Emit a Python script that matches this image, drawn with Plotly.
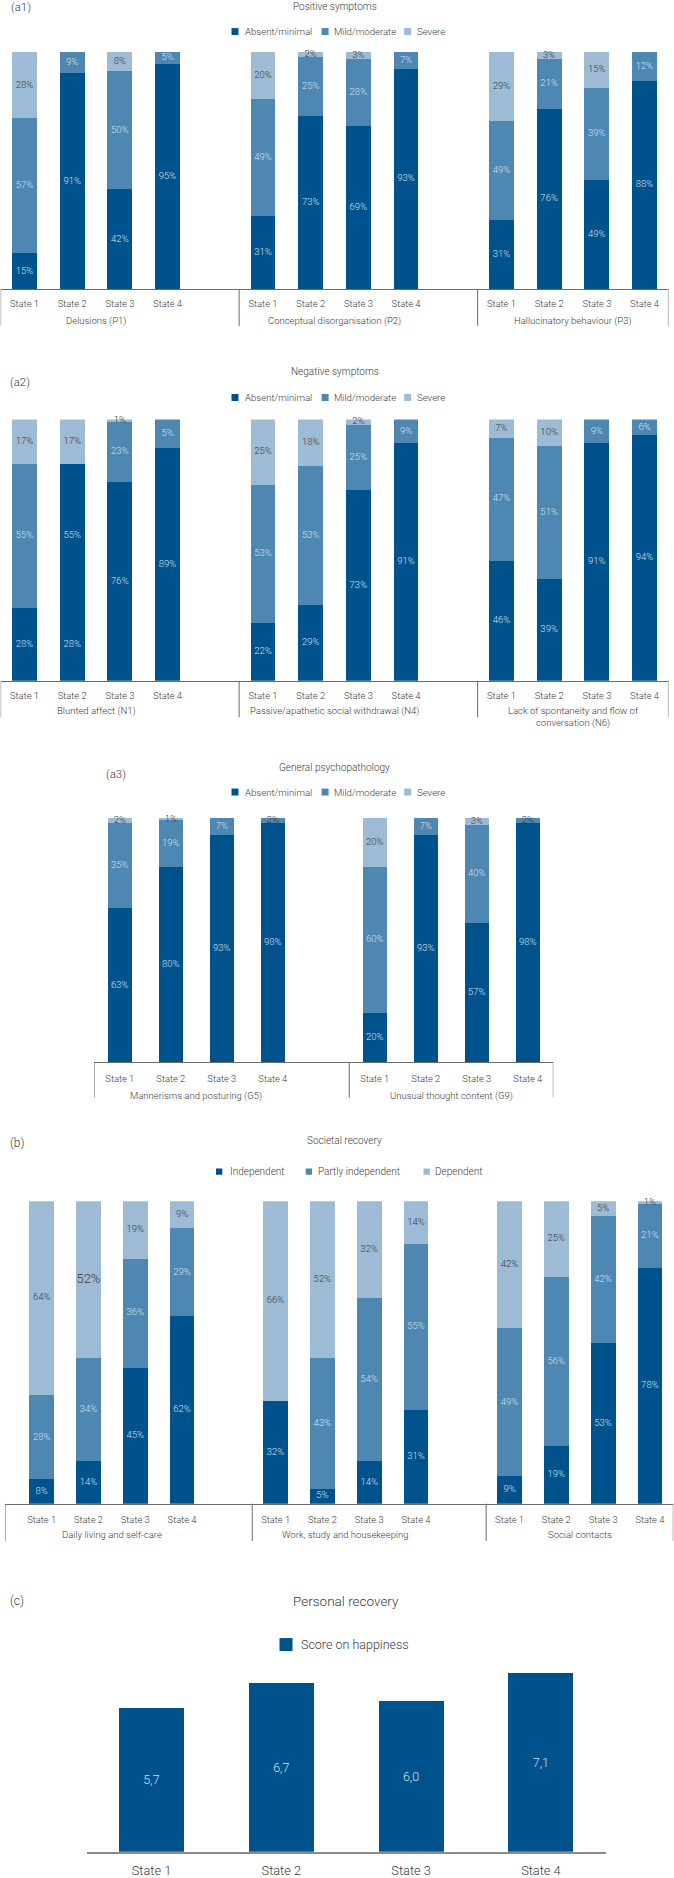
import plotly.graph_objects as go

W, H = 674, 1878

states = ["State 1", "State 2", "State 3", "State 4"]

# (a1) Positive symptoms, % of patients per state (bar heights as drawn)
pos_items = ["Delusions (P1)", "Conceptual disorganisation (P2)", "Hallucinatory behaviour (P3)"]
pos_absent = [15, 91, 42, 95, 31, 73, 69, 93, 29, 76, 46, 88]
pos_mild = [57, 9, 50, 5, 49, 25, 28, 7, 42, 21, 39, 12]
pos_severe = [28, 0, 8, 0, 20, 2, 3, 0, 29, 3, 15, 0]
# labels printed in the figure where they differ from the drawn bar
pos_printed = {("absent", 8): "31%", ("mild", 8): "49%", ("absent", 10): "49%"}

# (a2) Negative symptoms
neg_items = ["Blunted affect (N1)", "Passive/apathetic social withdrawal (N4)",
             "Lack of spontaneity and flow of<br>conversation (N6)"]
neg_absent = [28, 28, 76, 89, 22, 29, 73, 91, 46, 39, 91, 94]
neg_mild = [55, 55, 23, 11, 53, 53, 25, 9, 47, 51, 9, 6]
neg_severe = [17, 17, 1, 0, 25, 18, 2, 0, 7, 10, 0, 0]
neg_printed = {("mild", 3): "5%"}

# (a3) General psychopathology
gen_items = ["Mannerisms and posturing (G5)", "Unusual thought content (G9)"]
gen_absent = [63, 80, 93, 98, 20, 93, 57, 98]
gen_mild = [35, 19, 7, 2, 60, 7, 40, 2]
gen_severe = [2, 1, 0, 0, 20, 0, 3, 0]

# (b) Societal recovery
soc_items = ["Daily living and self-care", "Work, study and housekeeping", "Social contacts"]
soc_indep = [8, 14, 45, 62, 34, 5, 14, 31, 9, 19, 53, 78]
soc_partly = [28, 34, 36, 29, 0, 43, 54, 55, 49, 56, 42, 21]
soc_dep = [64, 52, 19, 9, 66, 52, 32, 14, 42, 25, 5, 1]
soc_printed = {("indep", 4): "32%"}

# (c) Personal recovery
happiness = [5.7, 6.7, 6.0, 7.1]

DARK = "#00528c"
MID = "#4e87b2"
LIGHT = "#9dbbd5"
TXT = "#3a3a3a"
TXT_IN = "#d4e0ec"
LINE = "#6b6b6b"
FONT = "Roboto"


def px(x):
    return x / W


def py(y):
    return 1 - y / H


fig = go.Figure()
shapes = []
annotations = []


def stacked_panel(n, items, series, printed, xdom, ydom, left, bar_w, ticklen,
                  group_y, div_bottom, recolour=None, emphasis=None):
    sfx = "" if n == 1 else str(n)
    xa, ya = "x" + sfx, "y" + sfx
    pos = [g * 5 + s for g in range(len(items)) for s in range(4)]
    right = pos[-1] + 0.5
    base = [0] * len(pos)
    recolour = recolour or {}
    emphasis = emphasis or set()
    lx, ly, lt, lc, ls = [], [], [], [], []
    for key, vals, color, txt in series:
        cols = [recolour.get((key, i), color) for i in range(len(vals))]
        fig.add_trace(go.Bar(
            x=pos, y=[v if v else None for v in vals], width=bar_w,
            marker=dict(color=cols, line=dict(width=0)),
            xaxis=xa, yaxis=ya, showlegend=False, hoverinfo="skip",
        ))
        for i, v in enumerate(vals):
            if not v:
                continue
            big = (key, i) in emphasis
            lx.append(pos[i])
            ly.append(base[i] + v / 2)
            lt.append(printed.get((key, i), f"{v}%"))
            lc.append(TXT if (txt == TXT or v <= 3 or big) else TXT_IN)
            ls.append(13 if big else 9.5)
            base[i] += v
    # percentage labels centred on each segment
    fig.add_trace(go.Scatter(
        x=lx, y=ly, mode="text", text=lt, textposition="middle center",
        textfont=dict(size=ls, color=lc, family=FONT),
        xaxis=xa, yaxis=ya, showlegend=False, hoverinfo="skip", cliponaxis=False,
    ))
    fig.update_layout({
        "xaxis" + sfx: dict(
            domain=[px(xdom[0]), px(xdom[1])], range=[left, right], anchor=ya,
            tickmode="array", tickvals=pos, ticktext=states * len(items),
            ticks="outside", ticklen=ticklen, tickcolor="rgba(0,0,0,0)",
            tickfont=dict(size=9.4, color=TXT),
            showline=True, linecolor=LINE, linewidth=1,
            showgrid=False, zeroline=False, fixedrange=True,
        ),
        "yaxis" + sfx: dict(
            domain=[py(ydom[1]), py(ydom[0])], range=[0, 100],
            anchor=xa, visible=False, fixedrange=True,
        ),
    })
    # group dividers below the axis, Excel style
    for xb in [left] + [g * 5 - 0.5 for g in range(1, len(items))] + [right]:
        shapes.append(dict(type="line", xref=xa, yref="paper", x0=xb, x1=xb,
                           y0=py(ydom[1]), y1=py(div_bottom),
                           line=dict(color=LINE, width=1)))
    for g, item in enumerate(items):
        annotations.append(dict(text=item, xref=xa, yref="paper", x=g * 5 + 1.5,
                                y=py(group_y), yanchor="top", showarrow=False,
                                font=dict(size=9.5, color=TXT)))


def legend_row(y, entries, size=7, font=9.6):
    for x0, tx, label, color in entries:
        shapes.append(dict(type="rect", xref="paper", yref="paper",
                           x0=px(x0), x1=px(x0 + size), y0=py(y + size / 2), y1=py(y - size / 2),
                           fillcolor=color, line_width=0))
        annotations.append(dict(text=label, xref="paper", yref="paper", x=px(tx - 1), y=py(y),
                                xanchor="left", yanchor="middle", showarrow=False,
                                font=dict(size=font, color=TXT)))


def heading(text, x, y, size=10, xanchor="center"):
    annotations.append(dict(text=text, xref="paper", yref="paper", x=px(x), y=py(y),
                            xanchor=xanchor, yanchor="middle", showarrow=False,
                            font=dict(size=size, color=TXT)))


sev_legend = [(231.5, 244.2, "Absent/minimal", DARK),
              (321.6, 333.2, "Mild/moderate", MID),
              (404.2, 416.2, "Severe", LIGHT)]

# (a1)
stacked_panel(1, pos_items,
              [("absent", pos_absent, DARK, TXT_IN), ("mild", pos_mild, MID, TXT_IN),
               ("severe", pos_severe, LIGHT, TXT)],
              pos_printed, (0.65, 668.4), (52.3, 290), -0.5, 0.52, 6, 313.7, 327)
heading("(a1)", 9, 6.7, size=11.5, xanchor="left")
heading("Positive symptoms", 335, 6.7)
legend_row(31.7, sev_legend)

# (a2)
stacked_panel(2, neg_items,
              [("absent", neg_absent, DARK, TXT_IN), ("mild", neg_mild, MID, TXT_IN),
               ("severe", neg_severe, LIGHT, TXT)],
              neg_printed, (0.65, 668.4), (421, 683.3), -0.5, 0.52, 6, 706, 720,
              recolour={("mild", 1): DARK})
heading("(a2)", 8, 383, size=11.5, xanchor="left")
heading("Negative symptoms", 335, 372.7)
legend_row(399, sev_legend)

# (a3)
stacked_panel(3, gen_items,
              [("absent", gen_absent, DARK, TXT_IN), ("mild", gen_mild, MID, TXT_IN),
               ("severe", gen_severe, LIGHT, TXT)],
              {}, (94.3, 553.3), (821, 1066), -0.5, 0.48, 7.5, 1092, 1101.7)
heading("(a3)", 104, 776.7, size=11.5, xanchor="left")
heading("General psychopathology", 334.5, 770.7)
legend_row(795, sev_legend)

# (b)
stacked_panel(4, soc_items,
              [("indep", soc_indep, DARK, TXT_IN), ("partly", soc_partly, MID, TXT_IN),
               ("dep", soc_dep, LIGHT, TXT)],
              soc_printed, (5.2, 673.3), (1205.7, 1509.3), -0.78, 0.53, 7, 1532.7, 1546.7,
              emphasis={("dep", 1)})
heading("(b)", 8, 1147.3, size=12, xanchor="left")
heading("Societal recovery", 344, 1145)
legend_row(1176, [(216, 229, "Independent", DARK),
                  (305.7, 317.3, "Partly independent", MID),
                  (423.5, 434.2, "Dependent", LIGHT)], size=6.3, font=10)

# (c)
fig.add_trace(go.Bar(
    x=list(range(len(happiness))), y=happiness, width=0.5,
    marker=dict(color=DARK, line=dict(width=0)),
    texttemplate="%{y:.1f}", textposition="inside", insidetextanchor="middle", textangle=0,
    textfont=dict(size=12.5, color=TXT_IN),
    xaxis="x5", yaxis="y5", showlegend=False, hoverinfo="skip",
))
fig.update_layout(
    xaxis5=dict(domain=[px(86.6), px(605.8)], range=[-0.5, 3.5], anchor="y5",
                tickmode="array", tickvals=list(range(4)), ticktext=states,
                ticks="outside", ticklen=6, tickcolor="rgba(0,0,0,0)",
                tickfont=dict(size=12.8, color=TXT),
                showline=True, linecolor="#8a8a8a", linewidth=1.5,
                showgrid=False, zeroline=False, fixedrange=True),
    yaxis5=dict(domain=[py(1858.7), py(1858.7 - 8 * 25.3)], range=[0, 8],
                anchor="x5", visible=False, fixedrange=True),
)
heading("(c)", 8, 1606.7, size=12, xanchor="left")
heading("Personal recovery", 346, 1606.7, size=13.5)
legend_row(1650.7, [(279.5, 300, "Score on happiness", DARK)], size=13, font=12.5)

fig.update_layout(
    width=W, height=H,
    margin=dict(l=0, r=0, t=0, b=0),
    barmode="stack",
    separators=",.",
    showlegend=False,
    plot_bgcolor="white",
    paper_bgcolor="white",
    font=dict(family=FONT, color=TXT, weight=300),
    shapes=shapes,
    annotations=annotations,
)

fig.write_html("out.html", config={"displayModeBar": False},
               post_script="document.body.style.margin='0';")
